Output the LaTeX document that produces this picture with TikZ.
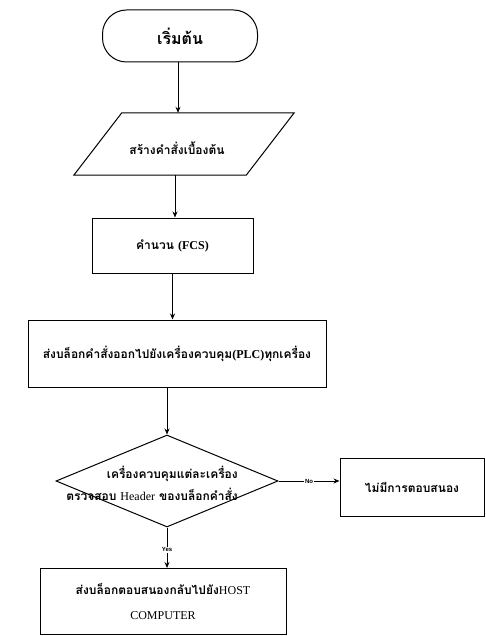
\documentclass[tikz,border=0pt]{standalone}
\usepackage{fontspec}
\setmainfont{Liberation Serif}
\newfontfamily\thai[Script=Thai]{Loma}
\newfontfamily\lab{Liberation Sans}
\usetikzlibrary{arrows.meta,shapes.geometric}
\tikzset{
  line/.style={line width=1pt},
  arr/.style={line width=0.9pt,-{Stealth[length=6pt,width=5pt]}},
  boxnode/.style={draw,line width=1pt,rectangle,inner sep=2pt,align=center,font=\thai\bfseries\fontsize{12}{22}\selectfont},
  yn/.style={font=\lab\bfseries\fontsize{6}{7}\selectfont,fill=white,inner sep=1pt},
}
\begin{document}
\begin{tikzpicture}[x=1pt,y=-1pt]
\useasboundingbox (0,0) rectangle (486,636);
% start
\node[draw,line width=1pt,rounded corners=24pt,minimum width=155pt,minimum height=52pt,font=\thai\bfseries\fontsize{16}{18}\selectfont] (start) at (180,36) {เริ่มต้น};
% parallelogram
\node[minimum width=172pt,minimum height=62pt,inner sep=0pt] (para) at (184,144) {};
\draw[line] ([xshift=24pt]para.north west) -- ([xshift=24pt]para.north east) -- ([xshift=-24pt]para.south east) -- ([xshift=-24pt]para.south west) -- cycle;
\node[font=\thai\bfseries\fontsize{12}{14}\selectfont] (paratxt) at (177,148) {สร้างคำสั่งเบื้องต้น};
% FCS
\node[boxnode,minimum width=161pt,minimum height=55pt] (fcs) at (172.5,245.5) {คำนวน {\rmfamily\bfseries(FCS)}};
% PLC
\node[boxnode,minimum width=298pt,minimum height=67pt] (plc) at (177,353.5) {ส่งบล็อกคำสั่งออกไปยังเครื่องควบคุม{\rmfamily\bfseries(PLC)}ทุกเครื่อง};
% diamond
\node[draw,line width=1pt,diamond,aspect=2.4,minimum width=222pt,minimum height=92pt,inner sep=0pt] (dec) at (167,481) {};
\node[align=right,anchor=east,inner sep=0pt,font=\thai\bfseries\fontsize{12}{22}\selectfont] (dectxt) at (238,483) {เครื่องควบคุมแต่ละเครื่อง\\ตรวจสอบ {\rmfamily\mdseries Header} ของบล็อกคำสั่ง};
% no box
\node[boxnode,minimum width=144pt,minimum height=58pt] (none) at (412,487) {ไม่มีการตอบสนอง};
% bottom box
\node[boxnode,minimum width=246pt,minimum height=66pt,font=\thai\bfseries\fontsize{12}{25}\selectfont] (back) at (163,601.5) {ส่งบล็อกตอบสนองกลับไปยัง{\rmfamily\mdseries HOST}\\{\rmfamily\mdseries COMPUTER}};
% connectors
\draw[arr] (start.south -| 178,0) -- (178,0 |- para.north);
\draw[arr] (175,0 |- para.south) -- (175,0 |- fcs.north);
\draw[arr] (fcs.south) -- (fcs.south |- plc.north);
\draw[arr] (dec.north |- plc.south) -- (dec.north);
\draw[arr] (dec.east) -- node[yn] (nolab) {No} (dec.east -| none.west);
\draw[arr] (dec.south) -- node[yn,pos=0.55] (yeslab) {Yes} (dec.south |- back.north);
\end{tikzpicture}
\end{document}
